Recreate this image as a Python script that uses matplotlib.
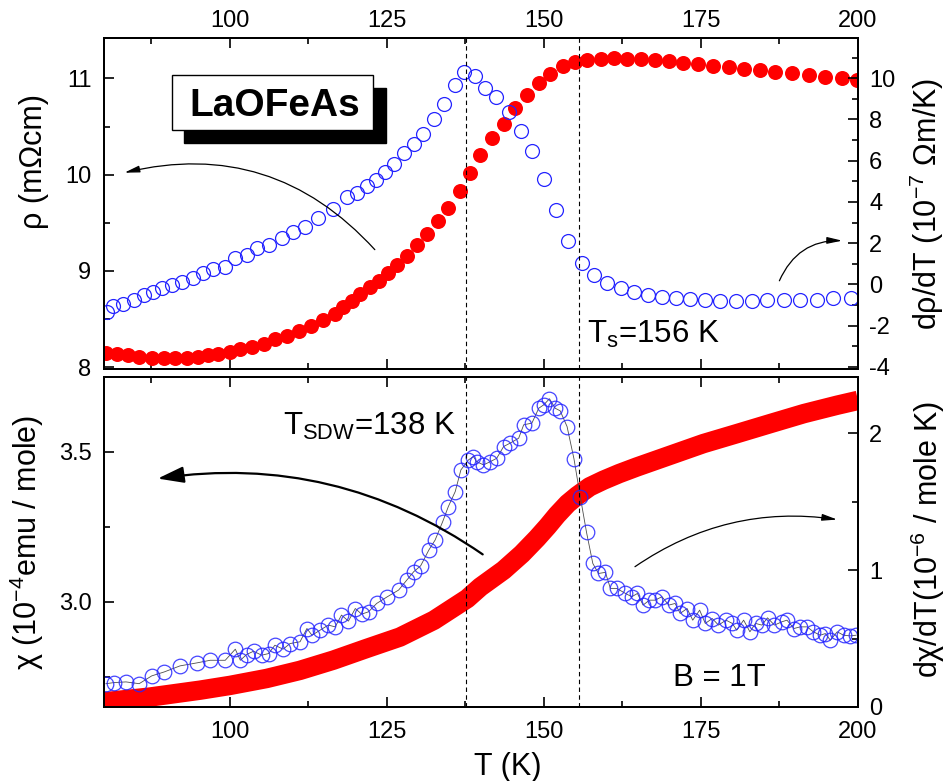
import matplotlib
matplotlib.use('Agg')
import matplotlib.pyplot as plt
from matplotlib.patches import Rectangle
from matplotlib.ticker import MultipleLocator, FormatStrFormatter

plt.rcParams['font.family'] = ['Liberation Sans', 'DejaVu Sans']
plt.rcParams['mathtext.fontset'] = 'custom'
plt.rcParams['mathtext.rm'] = 'Liberation Sans'
plt.rcParams['mathtext.it'] = 'Liberation Sans:italic'
plt.rcParams['axes.unicode_minus'] = False

# resistivity rho (left axis, top panel)
T_rho = [80.4, 82.1, 83.9, 85.6, 87.6, 89.5, 91.3, 93.2, 94.9, 96.6, 98.2, 100.0,
         101.7, 103.5, 105.4, 107.2, 109.1, 111.1, 113.0, 114.8, 116.7, 118.1,
         119.4, 120.8, 122.3, 123.7, 125.2, 126.7, 128.2, 129.8, 131.4, 133.1,
         134.8, 136.6, 138.2, 139.9, 141.7, 143.6, 145.4, 147.3, 149.2, 151.0,
         153.0, 154.9, 156.9, 159.1, 161.2, 163.2, 165.5, 167.7, 170.0, 172.2,
         174.6, 177.0, 179.4, 181.8, 184.4, 186.8, 189.5, 192.2, 194.8, 197.5, 199.9]
rho = [8.149, 8.138, 8.121, 8.110, 8.097, 8.093, 8.093, 8.097, 8.104, 8.121, 8.138, 8.162,
       8.190, 8.214, 8.242, 8.287, 8.328, 8.380, 8.432, 8.494, 8.552, 8.621,
       8.690, 8.759, 8.828, 8.897, 8.976, 9.062, 9.155, 9.266, 9.379, 9.517,
       9.655, 9.834, 10.017, 10.200, 10.379, 10.527, 10.690, 10.827, 10.955, 11.050,
       11.127, 11.170, 11.196, 11.207, 11.213, 11.207, 11.200, 11.190, 11.179, 11.165,
       11.148, 11.134, 11.120, 11.103, 11.086, 11.068, 11.052, 11.034, 11.017, 11.000, 10.980]

# d rho / dT (right axis, top panel)
T_drho = [80.5, 81.5, 83.1, 84.7, 86.3, 87.8, 89.3, 90.8, 92.4, 94.1, 95.7, 97.4,
          99.2, 100.9, 102.7, 104.4, 106.3, 108.3, 110.1, 112.0, 114.1, 116.5,
          118.6, 120.2, 121.8, 123.3, 124.7, 126.2, 127.7, 129.3, 130.8, 132.5,
          134.1, 135.8, 137.3, 139.0, 140.7, 142.4, 144.5, 146.4, 148.1, 150.1,
          152.0, 153.9, 156.0, 158.0, 160.0, 162.3, 164.3, 166.6, 168.8, 171.1,
          173.3, 175.7, 178.1, 180.6, 183.1, 185.5, 188.2, 190.8, 193.5, 196.1, 198.9]
drho = [-1.33, -1.05, -0.96, -0.73, -0.52, -0.36, -0.15, -0.03, 0.13, 0.32, 0.56, 0.73,
        0.85, 1.26, 1.42, 1.75, 1.91, 2.26, 2.55, 2.80, 3.20, 3.64,
        4.25, 4.45, 4.77, 5.06, 5.47, 5.84, 6.36, 6.80, 7.28, 8.01,
        8.75, 9.67, 10.32, 10.12, 9.51, 9.08, 8.35, 7.44, 6.49, 5.10,
        3.61, 2.12, 1.02, 0.45, 0.05, -0.19, -0.36, -0.52, -0.60, -0.68,
        -0.71, -0.76, -0.80, -0.81, -0.81, -0.76, -0.76, -0.73, -0.73, -0.68, -0.65]

# susceptibility chi (left axis, bottom panel)
T_chi = [80.0, 87.3, 95.3, 100.1, 105.9, 111.2, 116.5, 121.8, 127.1, 132.5,
         137.8, 139.9, 143.6, 146.5, 148.9, 150.6, 152.1, 153.8, 155.3, 157.3,
         159.5, 162.0, 164.8, 170.1, 175.4, 180.7, 186.1, 191.4, 196.7, 200.0]
chi = [2.667, 2.683, 2.706, 2.722, 2.745, 2.772, 2.806, 2.845, 2.883, 2.939,
       3.011, 3.050, 3.106, 3.160, 3.212, 3.252, 3.290, 3.328, 3.354, 3.384,
       3.406, 3.428, 3.450, 3.489, 3.528, 3.561, 3.595, 3.628, 3.656, 3.672]

# d chi / dT (right axis, bottom panel)
T_dchi = [80.3, 81.6, 83.5, 85.6, 87.6, 89.6, 92.1, 94.8, 96.9, 99.3, 100.9, 101.7,
          102.7, 103.8, 105.1, 106.2, 107.2, 108.5, 109.6, 111.2, 112.3, 113.1, 114.4,
          115.7, 116.8, 117.8, 118.9, 120.0, 121.0, 122.1, 123.4, 125.1, 126.9, 128.2,
          129.3, 130.4, 131.7, 132.7, 133.9, 134.8, 135.9, 136.8, 138.0, 138.8,
          139.3, 140.4, 141.5, 142.5, 143.6, 144.6, 146.0, 146.8, 148.1, 149.2,
          150.0, 150.9, 151.8, 152.6, 153.7, 154.8, 155.8, 156.8, 157.8, 158.7,
          159.8, 160.6, 161.6, 163.0, 164.0, 164.9, 165.8, 166.8, 167.7, 168.8,
          169.9, 170.9, 171.7, 172.8, 173.7, 174.8, 175.7, 176.8, 177.8, 179.0,
          180.0, 180.7, 181.8, 182.8, 183.7, 184.7, 185.6, 186.7, 187.9, 188.7,
          189.8, 190.8, 191.9, 192.9, 194.0, 194.8, 195.6, 196.7, 197.7, 198.8, 199.7]
dchi = [0.170, 0.178, 0.183, 0.170, 0.227, 0.256, 0.300, 0.322, 0.341, 0.341, 0.422, 0.341,
        0.383, 0.407, 0.378, 0.390, 0.451, 0.422, 0.463, 0.476, 0.573, 0.524, 0.561,
        0.598, 0.585, 0.671, 0.627, 0.719, 0.678, 0.695, 0.756, 0.805, 0.854, 0.927,
        0.988, 1.031, 1.146, 1.219, 1.353, 1.463, 1.573, 1.731, 1.804, 1.829,
        1.792, 1.768, 1.792, 1.816, 1.902, 1.926, 1.963, 2.061, 2.073, 2.182,
        2.207, 2.251, 2.182, 2.163, 2.048, 1.812, 1.536, 1.275, 1.048, 0.975,
        0.983, 0.866, 0.866, 0.829, 0.805, 0.829, 0.744, 0.780, 0.780, 0.805,
        0.744, 0.756, 0.683, 0.719, 0.634, 0.707, 0.610, 0.646, 0.598, 0.634,
        0.610, 0.561, 0.634, 0.549, 0.610, 0.598, 0.651, 0.598, 0.622, 0.634,
        0.573, 0.585, 0.585, 0.549, 0.524, 0.536, 0.488, 0.549, 0.524, 0.519, 0.524]

T_SDW = 137.6
T_S = 155.6

RED = '#ff0000'
BLUE = '#2424ff'

fig = plt.figure(figsize=(9.53, 7.81), dpi=100)
ax1 = fig.add_axes([0.1091, 0.5275, 0.7912, 0.4238])
ax2 = fig.add_axes([0.1091, 0.0948, 0.7912, 0.4225])
ax1r = ax1.twinx()
ax2r = ax2.twinx()

# top panel
ax1.plot(T_rho, rho, 'o', color=RED, ms=10.8, mec=RED, mew=0)
ax1r.plot(T_drho, drho, 'o', mfc='none', mec=BLUE, ms=10.0, mew=0.9)

# bottom panel
ax2.plot(T_chi, chi, '-', color=RED, lw=14, solid_capstyle='butt',
         solid_joinstyle='round')
ax2r.plot(T_dchi, dchi, '-', color='0.3', lw=0.6)
ax2r.plot(T_dchi, dchi, 'o', mfc='none', mec=BLUE, ms=10.5, mew=0.9, alpha=0.85)

for a in (ax1r, ax2r):
    for t in (T_SDW, T_S):
        a.axvline(t, color='black', ls=(0, (4, 3)), lw=0.8)

ax1.set_xlim(80, 200)
ax2.set_xlim(80, 200)
ax1.set_ylim(7.98, 11.42)
ax1r.set_ylim(-4.1, 11.95)
ax2.set_ylim(2.65, 3.75)
ax2r.set_ylim(0, 2.41)

for a in (ax1, ax2):
    a.xaxis.set_major_locator(MultipleLocator(25))
    a.xaxis.set_minor_locator(MultipleLocator(12.5))
ax1.yaxis.set_major_locator(MultipleLocator(1))
ax1.yaxis.set_minor_locator(MultipleLocator(0.5))
ax1r.yaxis.set_major_locator(MultipleLocator(2))
ax1r.yaxis.set_minor_locator(MultipleLocator(1))
ax2.yaxis.set_major_locator(MultipleLocator(0.5))
ax2.yaxis.set_minor_locator(MultipleLocator(0.25))
ax2.yaxis.set_major_formatter(FormatStrFormatter('%.1f'))
ax2r.yaxis.set_major_locator(MultipleLocator(1))
ax2r.yaxis.set_minor_locator(MultipleLocator(0.5))

for a in (ax1, ax2, ax1r, ax2r):
    for s in a.spines.values():
        s.set_linewidth(1.4)
    a.tick_params(which='both', direction='in', width=1.2, labelsize=17)
    a.tick_params(which='major', length=7.5)
    a.tick_params(which='minor', length=4.5)

ax1.tick_params(axis='x', which='both', top=True, bottom=True,
                labeltop=True, labelbottom=False, pad=4)
ax2.tick_params(axis='x', which='both', top=True, bottom=True,
                labeltop=False, labelbottom=True, pad=10)
for a in (ax1, ax2):
    a.tick_params(axis='y', which='both', left=True, right=False, pad=9)
for a in (ax1r, ax2r):
    a.tick_params(axis='y', which='both', left=False, right=True, pad=8)

# axis labels
fig.text(0.533, 1 - 775 / 781, 'T (K)', ha='center', va='baseline', fontsize=22)
fig.text(0.0357, 0.793, 'ρ (mΩcm)', rotation=90, ha='center', va='center', fontsize=22)
fig.text(0.9729, 0.7388, 'dρ/dT (10$^{\\mathregular{-7}}$ Ωm/K)', rotation=90,
         ha='center', va='center', fontsize=22)
fig.text(0.028, 0.3054, 'χ (10$^{\\mathregular{-4}}$emu / mole)', rotation=90,
         ha='center', va='center', fontsize=22)
fig.text(0.974, 0.3099, 'dχ/dT(10$^{\\mathregular{-6}}$ / mole K)', rotation=90,
         ha='center', va='center', fontsize=22)

# sample label with shadow box
ax1r.add_patch(Rectangle((0.1061, 0.6837), 0.268, 0.164, transform=ax1r.transAxes,
                         facecolor='black', edgecolor='black', lw=1, zorder=5))
ax1r.add_patch(Rectangle((0.0898, 0.722), 0.2674, 0.166, transform=ax1r.transAxes,
                         facecolor='white', edgecolor='black', lw=1, zorder=6))
ax1r.text(0.2268, 0.7644, 'LaOFeAs', transform=ax1r.transAxes, ha='center',
          va='baseline', fontsize=28, fontweight='bold', zorder=7)

# text annotations
ax1r.text(0.6402, 0.0776, 'T$_\\mathregular{s}$=156 K', transform=ax1r.transAxes,
          ha='left', va='baseline', fontsize=22.5)
ax2r.text(0.2378, 0.8242, 'T$_\\mathregular{SDW}$=138 K', transform=ax2r.transAxes,
          ha='left', va='baseline', fontsize=22.5)
ax2r.text(0.7551, 0.0636, 'B = 1T', transform=ax2r.transAxes,
          ha='left', va='baseline', fontsize=22.5)

# curved arrows pointing to the axis each curve belongs to
thin = dict(arrowstyle='-|>,head_length=0.9,head_width=0.2', color='black', lw=0.9)
ax1r.annotate('', xy=(0.0235, 0.5912), xytext=(0.3617, 0.3544),
              xycoords='axes fraction', textcoords='axes fraction',
              arrowprops=dict(thin, connectionstyle='arc3,rad=0.3', mutation_scale=10))
ax1r.annotate('', xy=(0.9828, 0.3876), xytext=(0.8943, 0.2589),
              xycoords='axes fraction', textcoords='axes fraction',
              arrowprops=dict(thin, connectionstyle='arc3,rad=-0.35', mutation_scale=10))
ax2r.annotate('', xy=(0.0676, 0.6909), xytext=(0.5053, 0.4576),
              xycoords='axes fraction', textcoords='axes fraction',
              arrowprops=dict(arrowstyle='-|>,head_length=0.8,head_width=0.25',
                              color='black', lw=1.6, mutation_scale=20,
                              connectionstyle='arc3,rad=0.2'))
ax2r.annotate('', xy=(0.9761, 0.5667), xytext=(0.7012, 0.4203),
              xycoords='axes fraction', textcoords='axes fraction',
              arrowprops=dict(thin, connectionstyle='arc3,rad=-0.2', mutation_scale=10))

fig.savefig('out.png', dpi=100)
